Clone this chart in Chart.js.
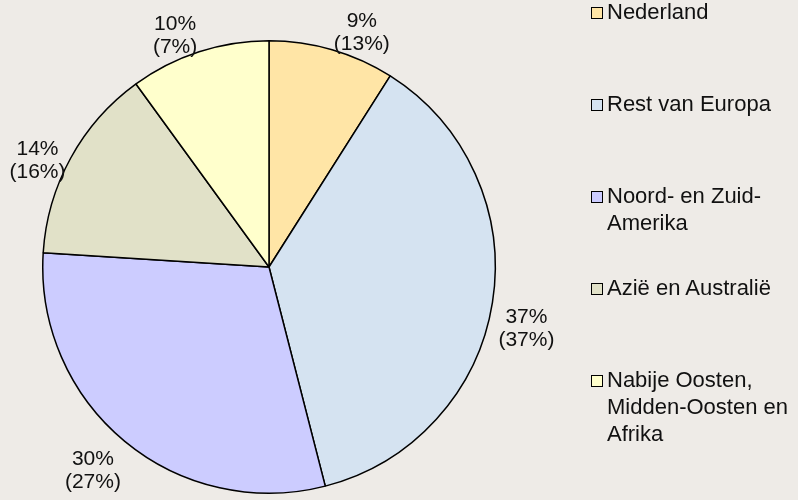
<!DOCTYPE html>
<html>
<head>
<meta charset="utf-8">
<script src="https://cdn.jsdelivr.net/npm/chart.js@4"></script>
<style>
  html, body { margin: 0; padding: 0; background: #EEEBE7; }
  #wrap { position: relative; width: 798px; height: 500px; overflow: hidden; }
  #legend { position: absolute; left: 0; top: 0; }
  .item { position: absolute; left: 591px; width: 205px; font: 22px "Liberation Sans", Arial, sans-serif; line-height: 27px; color: #111; }
  .box { position: absolute; left: 0; top: 9px; width: 10px; height: 10px; border: 1.5px solid #000; }
  .txt { position: absolute; left: 16px; width: 190px; }
</style>
</head>
<body>
<div id="wrap">
  <canvas id="myChart" width="798" height="500"></canvas>
  <div id="legend"></div>
</div>
<script>
// regio's
const categories = ['Nederland', 'Rest van Europa', 'Noord- en Zuid-Amerika', 'Azië en Australië', 'Nabije Oosten, Midden-Oosten en Afrika'];
// percentages (eerste regel)
const shares = [9, 37, 30, 14, 10];
// percentages tussen haakjes (tweede regel)
const sharesOther = [13, 37, 27, 16, 7];
const colors = ['#FFE5A6', '#D5E3F1', '#CCCCFF', '#E1E1C8', '#FFFFCC'];

// legenda
const legend = document.getElementById('legend');
categories.forEach((c, i) => {
    const item = document.createElement('div');
    item.className = 'item';
    item.style.top = (-2 + i * 92) + 'px';
    item.innerHTML = '<div class="box" style="background:' + colors[i] + '"></div><div class="txt"></div>';
    item.querySelector('.txt').textContent = c;
    legend.appendChild(item);
});

// labels buiten de taart
const outerLabels = {
    id: 'outerLabels',
    afterDatasetsDraw(chart) {
        const ctx = chart.ctx;
        const meta = chart.getDatasetMeta(0);
        ctx.save();
        ctx.font = '21px "Liberation Sans", Arial, sans-serif';
        ctx.fillStyle = '#111';
        ctx.textBaseline = 'top';
        ctx.textAlign = 'center';
        const lineH = 23;
        meta.data.forEach((arc, i) => {
            const { x, y, startAngle, endAngle, outerRadius } = arc.getProps(['x', 'y', 'startAngle', 'endAngle', 'outerRadius'], true);
            const mid = (startAngle + endAngle) / 2;
            const R = outerRadius + 6;
            const ax = x + Math.cos(mid) * R;
            const ay = y + Math.sin(mid) * R;
            const lines = [shares[i] + '%', '(' + sharesOther[i] + '%)'];
            const w = Math.max(...lines.map(l => ctx.measureText(l).width));
            const h = lineH * 2;
            const up = -Math.sin(mid);
            const left = Math.cos(mid) >= 0 ? ax : ax - w;
            const top = ay - h * Math.max(up, 0) * 0.75 + (up < 0 ? 3 : 0);
            lines.forEach((l, k) => ctx.fillText(l, left + w / 2, top + k * lineH));
        });
        ctx.restore();
    }
};

const ctx = document.getElementById('myChart');
new Chart(ctx, {
    type: 'pie',
    data: {
        labels: categories,
        datasets: [{
            data: shares,
            backgroundColor: colors,
            borderColor: '#000',
            borderWidth: 1.5
        }]
    },
    options: {
        responsive: false,
        animation: false,
        layout: { padding: { left: 42, top: 40, right: 302, bottom: 6 } },
        plugins: {
            legend: { display: false },
            tooltip: { enabled: false }
        }
    },
    plugins: [outerLabels]
});
</script>
</body>
</html>
